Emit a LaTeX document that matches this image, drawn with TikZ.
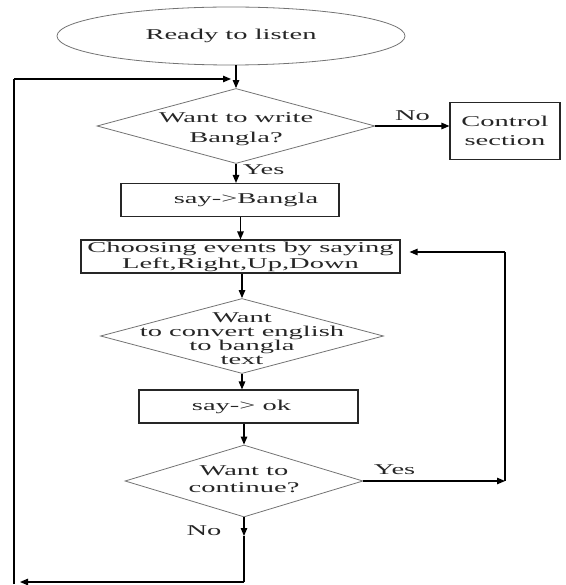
\documentclass[tikz,border=0pt]{standalone}
\usepackage{fontspec}
\setmainfont{Liberation Serif}[FakeStretch=1.9]
\usetikzlibrary{shapes.geometric,arrows.meta}
\begin{document}
\begin{tikzpicture}[x=1pt,y=-1pt,
  every node/.style={text=black!85, font={\fontsize{15}{17}\selectfont}},
  outl/.style={draw=black!55, line width=0.8pt},
  boxn/.style={draw=black!85, line width=1.1pt, rectangle, inner sep=0pt, align=center},
  dia/.style={outl, diamond, inner sep=0pt},
  arr/.style={draw=black, line width=1.2pt, -{Triangle[length=8pt,width=6.5pt]}},
  lin/.style={draw=black, line width=1.2pt},
  lbl/.style={inner sep=0pt, align=center}
]
\useasboundingbox (0,0) rectangle (565,585);

% nodes
\node[outl, ellipse, minimum width=348, minimum height=58, inner sep=0pt] (start) at (231,36) {Ready to listen};
\node[dia, minimum width=278, minimum height=75,
  label={[lbl, font={\fontsize{15}{20}\selectfont}, yshift=-3pt]center:{Want to write\\Bangla?}}] (d1) at (236,126) {};
\node[boxn, minimum width=110, minimum height=57, font={\fontsize{15}{19}\selectfont}, yshift=-3pt] (ctrl) at (505,128) {Control\\section};
\node[boxn, minimum width=218, minimum height=33,
  label={[lbl, xshift=16pt]center:{say->Bangla}}] (b1) at (230,200) {};
\node[boxn, minimum width=319, minimum height=33, font={\fontsize{15}{16}\selectfont}] (b2) at (240.5,256.5) {Choosing events by saying\\Left,Right,Up,Down};
\node[dia, minimum width=283, minimum height=75,
  label={[lbl, font={\fontsize{15}{14}\selectfont}, yshift=-3pt]center:{Want\\to convert english\\to bangla\\text}}] (d2) at (242,336) {};
\node[boxn, minimum width=219, minimum height=33,
  label={[lbl, xshift=-7pt]center:{say-> ok}}] (b3) at (248.5,406.5) {};
\node[dia, minimum width=238, minimum height=72,
  label={[lbl, font={\fontsize{15}{17}\selectfont}, yshift=2pt]center:{Want to\\continue?}}] (d3) at (244,481) {};

% loop coordinates
\coordinate (r1) at (505,481);
\coordinate (r2) at (505,252);
\coordinate (m1) at (244,536);
\coordinate (c1) at (244,582);
\coordinate (c2) at (20,582);
\coordinate (c3) at (14,584);
\coordinate (c4) at (14,79);
\coordinate (c5) at (231,79);

% connectors
\draw[arr] (start.south -| d1.north) -- (d1.north);
\draw[arr] (d1.east) -- (d1.east -| ctrl.west) node[midway, above=1pt] (nol) {No};
\draw[arr] (d1.south) -- (d1.south |- b1.north) node[pos=0.3, right=3pt] (yesl) {Yes};
\draw[arr] (b1.south -| b2.north) -- (b2.north);
\draw[arr] (b2.south -| d2.north) -- (d2.north);
\draw[arr] (d2.south) -- (d2.south |- b3.north);
\draw[arr] (b3.south -| d3.north) -- (d3.north);
\draw[arr] (d3.east) -- (r1) node[pos=0.22, above=2pt] (yes2) {Yes};
\draw[lin] (r1) -- (r2);
\draw[arr, shorten >=9pt] (r2) -- (r2 -| b2.east);
\draw[arr] (d3.south) -- (m1);
\node (no2) at (204,531) {No};
\draw[lin] (m1) -- (c1);
\draw[arr] (c1) -- (c2);
\draw[lin] (c3) -- (c4);
\draw[arr] (c4) -- (c5);
\end{tikzpicture}
\end{document}
